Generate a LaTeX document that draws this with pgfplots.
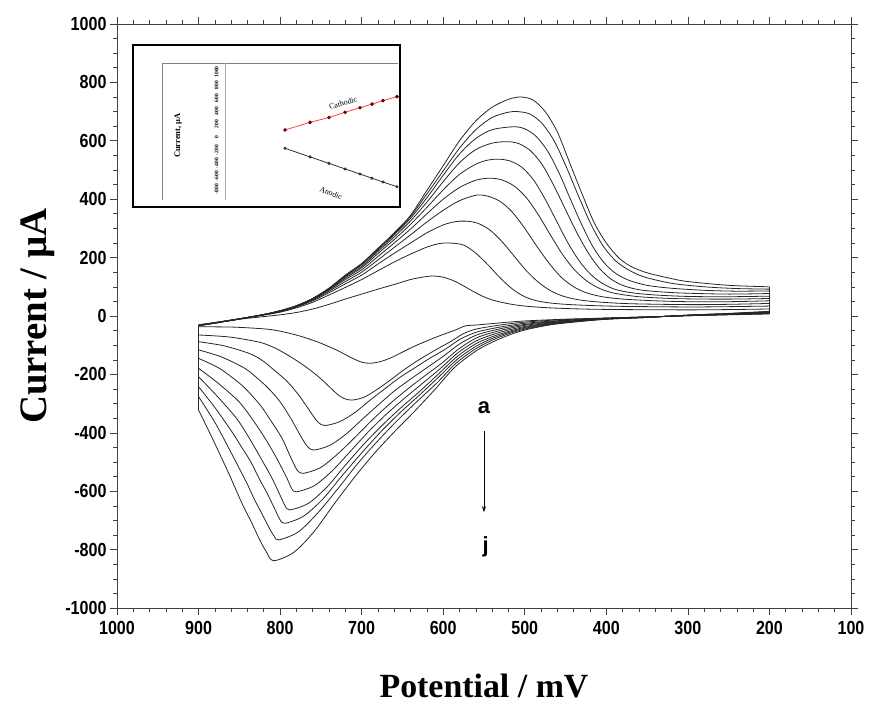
\documentclass[border=0pt]{standalone}
\usepackage{fontspec}
\setmainfont{Liberation Serif}
\newfontfamily\arial{Liberation Sans}
\usepackage{graphicx}
\usepackage{pgfplots}
\pgfplotsset{compat=1.18}
\usetikzlibrary{arrows.meta}
\newcommand{\tl}[1]{\scalebox{0.85}[1]{#1}}
\pgfplotsset{cv/.style={black!85, line width=0.8bp, smooth, no markers}}

\begin{document}
\begin{tikzpicture}
\begin{axis}[
    name=main,
    width=734bp, height=584bp, scale only axis,
    x dir=reverse,
    xmin=100, xmax=1000, ymin=-1000, ymax=1000,
    xtick={100,200,...,1000},
    xticklabels={\tl{100},\tl{200},\tl{300},\tl{400},\tl{500},\tl{600},\tl{700},\tl{800},\tl{900},\tl{1000}},
    ytick={-1000,-800,...,1000},
    yticklabels={\tl{-1000},\tl{-800},\tl{-600},\tl{-400},\tl{-200},\tl{0},\tl{200},\tl{400},\tl{600},\tl{800},\tl{1000}},
    minor x tick num=4, minor y tick num=3,
    tick align=outside,
    major tick length=7bp, minor tick length=4bp,
    axis line style={black!75, line width=0.8bp},
    every tick/.style={black!75, line width=0.6bp},
    ticklabel style={font=\arial\bfseries\fontsize{19}{19}\selectfont},
    xticklabel style={yshift=-3bp},
    xlabel={Potential / mV},
    ylabel={Current / µA},
    xlabel style={font=\bfseries\fontsize{34}{34}\selectfont,
        at={(axis description cs:0.5,-0.134)}, anchor=center},
    ylabel style={font=\bfseries\fontsize{39}{39}\selectfont,
        at={(axis description cs:-0.108,0.5)}, anchor=center},
]
% a
\addplot[cv] coordinates {(900,-30) (860,-15) (840,-8) (820,-2) (800,4) (780,12) (760,24) (740,40) (720,58) (700,75) (680,92) (660,108) (640,125) (625,133) (614,137) (600,133) (585,118) (570,95) (555,72) (540,55) (520,42) (500,34) (470,28) (430,24) (380,22) (300,21) (250,22) (200,24)};
\addplot[cv] coordinates {(200,7) (250,4) (300,1) (350,-3) (400,-7) (440,-10) (470,-13) (500,-17) (520,-21) (540,-26) (560,-31) (573,-34) (586,-49) (599,-62) (612,-76) (625,-91) (638,-107) (651,-125) (664,-143) (677,-156) (690,-162) (700,-158) (711,-145) (732,-115) (753,-90) (774,-70) (795,-55) (816,-45) (858,-38) (900,-37)};
% b
\addplot[cv] coordinates {(900,-31) (860,-14) (840,-6) (820,3) (800,13) (780,28) (760,47) (740,72) (720,98) (700,125) (680,155) (660,185) (640,212) (620,236) (605,248) (592,250) (575,243) (560,215) (545,175) (530,130) (515,92) (500,66) (485,52) (470,45) (450,40) (420,36) (380,33) (300,31) (250,32) (200,34)};
\addplot[cv] coordinates {(200,8) (250,5) (300,1) (350,-3) (400,-7) (440,-11) (470,-15) (500,-21) (520,-27) (540,-35) (560,-45) (575,-60) (590,-86) (606,-111) (621,-135) (636,-161) (651,-190) (666,-222) (682,-253) (697,-278) (712,-288) (722,-282) (731,-265) (750,-215) (768,-175) (787,-140) (806,-110) (825,-90) (862,-72) (900,-65)};
% c
\addplot[cv] coordinates {(900,-32) (860,-14) (840,-5) (820,4) (800,15) (780,31) (760,52) (740,80) (720,110) (700,140) (680,178) (660,215) (640,250) (620,285) (600,312) (585,323) (573,325) (558,318) (543,295) (528,255) (513,205) (498,155) (483,115) (468,86) (453,68) (435,56) (410,48) (370,42) (300,39) (250,40) (200,43)};
\addplot[cv] coordinates {(200,9) (250,5) (300,1) (350,-3) (400,-8) (440,-13) (470,-18) (500,-25) (520,-33) (540,-43) (560,-56) (579,-79) (597,-113) (616,-144) (634,-176) (653,-210) (671,-248) (690,-289) (708,-330) (727,-362) (745,-375) (753,-365) (760,-340) (776,-275) (791,-225) (807,-186) (822,-152) (838,-128) (869,-102) (900,-88)};
% d
\addplot[cv] coordinates {(900,-32) (860,-14) (840,-5) (820,4) (800,16) (780,32) (760,55) (740,85) (720,118) (700,150) (680,192) (660,235) (640,278) (620,322) (600,362) (580,395) (559,414) (545,410) (530,392) (515,355) (500,300) (485,238) (470,180) (455,132) (440,100) (425,80) (405,66) (380,58) (340,52) (300,49) (250,49) (200,52)};
\addplot[cv] coordinates {(200,10) (250,6) (300,2) (350,-4) (400,-8) (440,-14) (470,-20) (500,-29) (520,-38) (540,-50) (560,-66) (580,-96) (600,-138) (620,-177) (640,-216) (660,-257) (679,-303) (699,-353) (719,-404) (739,-443) (759,-459) (767,-445) (775,-410) (787,-350) (801,-290) (815,-246) (830,-208) (844,-178) (872,-140) (900,-116)};
% e
\addplot[cv] coordinates {(900,-32) (860,-14) (840,-5) (820,5) (800,17) (780,33) (760,57) (740,89) (720,125) (700,158) (680,204) (660,250) (640,298) (620,350) (600,400) (580,440) (560,465) (543,472) (528,466) (513,445) (498,405) (483,345) (468,275) (453,208) (438,155) (423,118) (408,94) (390,78) (360,66) (320,60) (280,58) (240,58) (200,60)};
\addplot[cv] coordinates {(200,11) (250,6) (300,2) (350,-4) (400,-9) (440,-16) (470,-22) (500,-32) (520,-43) (540,-57) (560,-76) (581,-113) (602,-162) (624,-208) (645,-253) (666,-302) (687,-356) (708,-415) (730,-474) (751,-520) (772,-539) (779,-528) (786,-490) (798,-417) (811,-360) (823,-310) (836,-268) (849,-232) (874,-180) (900,-145)};
% f
\addplot[cv] coordinates {(900,-33) (860,-15) (840,-5) (820,5) (800,17) (780,34) (760,58) (740,91) (720,130) (700,165) (680,214) (660,262) (640,314) (620,372) (600,432) (580,485) (560,520) (545,534) (531,537) (517,530) (503,508) (489,465) (475,400) (461,325) (447,250) (433,188) (419,142) (405,112) (390,92) (370,80) (340,72) (300,67) (250,66) (200,68)};
\addplot[cv] coordinates {(200,12) (250,7) (300,2) (350,-4) (400,-9) (440,-17) (470,-24) (500,-36) (520,-48) (540,-64) (560,-86) (582,-126) (604,-181) (626,-232) (648,-283) (670,-337) (692,-397) (714,-464) (736,-530) (758,-581) (780,-602) (786,-590) (792,-553) (804,-488) (816,-430) (828,-378) (840,-330) (852,-289) (876,-230) (900,-179)};
% g
\addplot[cv] coordinates {(900,-33) (860,-15) (840,-5) (820,5) (800,17) (780,35) (760,59) (740,93) (720,134) (700,170) (680,221) (660,271) (640,326) (620,390) (600,460) (580,525) (560,570) (540,592) (521,597) (507,590) (493,566) (479,520) (465,450) (451,370) (437,290) (423,220) (409,165) (395,128) (380,105) (360,90) (330,82) (300,78) (250,75) (200,77)};
\addplot[cv] coordinates {(200,13) (250,7) (300,2) (350,-4) (400,-10) (440,-18) (470,-26) (500,-39) (520,-53) (540,-71) (560,-95) (583,-139) (606,-199) (628,-256) (651,-312) (674,-372) (697,-438) (720,-511) (742,-584) (765,-641) (788,-664) (794,-650) (799,-620) (810,-555) (822,-495) (833,-441) (844,-390) (855,-345) (878,-272) (900,-208)};
% h
\addplot[cv] coordinates {(900,-33) (860,-15) (840,-5) (820,5) (800,18) (780,35) (760,60) (740,94) (720,137) (700,175) (680,226) (660,278) (640,335) (620,405) (600,482) (580,555) (560,608) (540,638) (514,648) (500,641) (486,615) (472,565) (458,490) (444,400) (430,312) (416,235) (402,180) (388,145) (372,122) (350,105) (320,95) (280,88) (240,85) (200,86)};
\addplot[cv] coordinates {(200,14) (250,8) (300,3) (350,-5) (400,-10) (440,-19) (470,-27) (500,-42) (520,-57) (540,-77) (560,-104) (583,-149) (607,-213) (630,-273) (654,-334) (677,-398) (700,-469) (724,-547) (747,-625) (771,-685) (794,-710) (800,-698) (805,-670) (815,-612) (826,-555) (836,-499) (847,-450) (858,-401) (879,-317) (900,-242)};
% i
\addplot[cv] coordinates {(900,-33) (860,-15) (840,-5) (820,5) (800,18) (780,35) (760,60) (740,95) (720,139) (700,178) (680,230) (660,282) (640,341) (620,418) (600,497) (580,575) (560,638) (540,680) (520,698) (509,700) (494,692) (479,660) (464,600) (449,510) (434,410) (419,315) (404,240) (389,190) (374,160) (355,135) (320,112) (280,100) (240,94) (200,92)};
\addplot[cv] coordinates {(200,15) (250,8) (300,3) (350,-5) (400,-11) (440,-20) (470,-29) (500,-45) (520,-61) (540,-83) (560,-112) (584,-161) (608,-230) (633,-295) (657,-360) (681,-430) (705,-506) (729,-591) (754,-675) (778,-740) (802,-767) (807,-755) (812,-733) (822,-679) (832,-625) (841,-571) (851,-517) (861,-463) (880,-364) (900,-276)};
% j
\addplot[cv] coordinates {(900,-33) (880,-25) (860,-15) (840,-5) (820,5) (800,18) (780,35) (760,60) (740,95) (720,140) (700,180) (680,232) (660,285) (640,345) (620,430) (600,515) (580,600) (560,668) (540,715) (520,742) (505,750) (490,740) (475,700) (460,630) (445,525) (430,420) (415,320) (400,250) (385,200) (370,170) (350,148) (320,128) (300,118) (250,105) (200,100)};
\addplot[cv] coordinates {(200,16) (250,9) (300,3) (350,-5) (400,-11) (440,-21) (470,-31) (500,-48) (520,-66) (540,-90) (560,-120) (586,-176) (610,-251) (634,-323) (659,-394) (684,-469) (709,-553) (734,-645) (758,-737) (783,-809) (808,-838) (817,-807) (826,-761) (835,-707) (845,-652) (854,-596) (863,-539) (882,-425) (900,-322)};
% switching-potential verticals
\addplot[black!85, line width=0.8bp, no markers, unbounded coords=jump] coordinates {(900,-30) (900,-322) (nan,nan) (200,7) (200,100)};

\node[font=\arial\bfseries\fontsize{22}{22}\selectfont] at (axis cs:550,-315) {a};
\draw[-{Stealth[length=6bp,width=4bp]}, line width=0.5bp] (axis cs:550,-395) -- (axis cs:550,-672);
\node[font=\arial\bfseries\fontsize{22}{22}\selectfont] at (axis cs:548,-792) {j};
\end{axis}

% inset frame
\coordinate (insw) at ([xshift=108bp,yshift=408bp]main.south west);
\draw[fill=white, line width=1.5bp] ([xshift=16bp,yshift=401bp]main.south west) rectangle ([xshift=283bp,yshift=563bp]main.south west);
\draw[gray, line width=0.8bp] ([xshift=45bp,yshift=408bp]main.south west) -- ([xshift=45bp,yshift=545bp]main.south west) -- ([xshift=281bp,yshift=545bp]main.south west);

\begin{axis}[
    at={(insw)}, anchor=south west,
    width=173bp, height=137bp, scale only axis,
    xmin=0, xmax=17.3, ymin=-969, ymax=1138,
    hide x axis,
    axis y line*=left,
    y axis line style={gray!70, line width=0.8bp},
    ytick={-800,-600,...,1000},
    yticklabels={-800,-600,-400,-200,0,200,400,600,800,1000},
    ytick style={draw=none},
    yticklabel style={rotate=90, anchor=south, font=\bfseries\fontsize{5.5}{5.5}\selectfont},
    yticklabel shift=3bp,
    ylabel={Current, µA},
    ylabel style={font=\bfseries\fontsize{8.5}{8.5}\selectfont,
        at={(rel axis cs:-0.27,0.47)}, anchor=center},
    clip=false,
]
\addplot[color=red!75!white, line width=0.8bp, mark=*, mark size=1.4bp,
    mark options={fill=red!45!black, draw=red!45!black}]
    coordinates {(6.0,108) (8.5,225) (10.4,300) (12.0,380) (13.5,450) (14.7,505) (15.8,560) (17.2,620)};
\addplot[color=black!80, line width=0.8bp, mark=*, mark size=1.1bp]
    coordinates {(6.0,-174) (8.5,-306) (10.4,-406) (12.0,-491) (13.5,-570) (14.7,-634) (15.8,-692) (17.2,-765)};
\node[rotate=17, font=\fontsize{8}{8}\selectfont] at (axis cs:11.8,520) {Cathodic};
\node[rotate=-22, font=\fontsize{8}{8}\selectfont] at (axis cs:10.6,-860) {Anodic};
\end{axis}

\pgfresetboundingbox
\path ([xshift=-117bp,yshift=-98bp]main.south west) rectangle ([xshift=19bp,yshift=24bp]main.north east);
\end{tikzpicture}
\end{document}
